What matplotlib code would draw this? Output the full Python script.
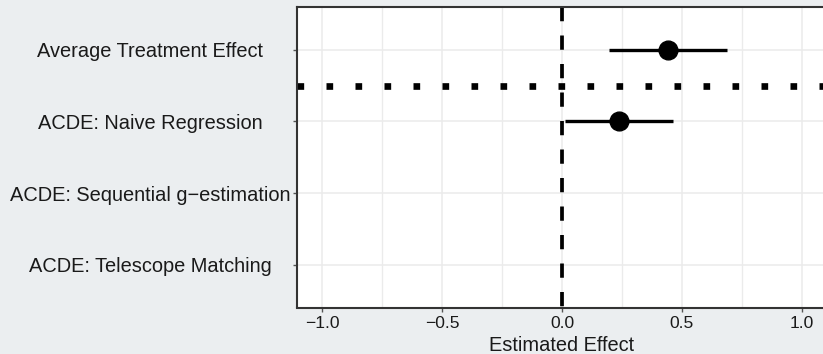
import matplotlib
matplotlib.use("Agg")
import numpy as np
import matplotlib.pyplot as plt
from matplotlib.transforms import blended_transform_factory
from matplotlib.ticker import MultipleLocator

# estimates, top row first; NaN where no estimate is shown
labels = [
    "Average Treatment Effect",
    "ACDE: Naive Regression",
    "ACDE: Sequential g\u2212estimation",
    "ACDE: Telescope Matching",
]
estimates = [0.44, 0.2375, np.nan, np.nan]
ci_low = [0.197, 0.014, np.nan, np.nan]
ci_high = [0.686, 0.464, np.nan, np.nan]
xticks = [-1.0, -0.5, 0.0, 0.5, 1.0]
xtick_labels = ["\u22121.0", "\u22120.5", "0.0", "0.5", "1.0"]

bg = "#ebeef0"
grid_col = "#ebebeb"
plt.rcParams["font.family"] = ["Liberation Sans", "DejaVu Sans"]

W, H = 823, 354
fig = plt.figure(figsize=(W / 100, H / 100), dpi=100, facecolor=bg)
left, right, top, bottom = 297, 826.4, 7, 307.5
ax = fig.add_axes([left / W, (H - bottom) / H, (right - left) / W, (bottom - top) / H])
ax.set_facecolor("white")

ypos = np.arange(len(labels), 0, -1)

ax.set_xlim(-1.104, 1.102)
ax.set_ylim(0.4, 4.6)

# grid
ax.xaxis.set_major_locator(MultipleLocator(0.5))
ax.xaxis.set_minor_locator(MultipleLocator(0.25))
ax.grid(True, which="major", color=grid_col, lw=1.1, zorder=0)
ax.grid(True, which="minor", axis="x", color=grid_col, lw=1.0, zorder=0)
ax.set_axisbelow(True)

# reference lines
ax.plot([0, 0], [4.6, 0.4], color="black", lw=2.7, ls=(0, (3.8, 3.8)),
        solid_capstyle="butt", dash_capstyle="butt", zorder=2)
ax.axhline(3.5, color="black", lw=4.8, ls=(0, (1, 3.35)),
           dash_capstyle="butt", zorder=2)

# point estimates with intervals
for y, est, lo, hi in zip(ypos, estimates, ci_low, ci_high):
    if np.isnan(est):
        continue
    ax.plot([lo, hi], [y, y], color="black", lw=2.4, solid_capstyle="butt", zorder=3)
    ax.plot(est, y, "o", color="black", ms=13.5, zorder=4)

ax.set_xticks(xticks)
ax.set_xticklabels(xtick_labels, fontsize=12.6, color="#1a1a1a")
ax.set_yticks(ypos)
ax.set_yticklabels([])
ax.tick_params(axis="both", which="major", length=3, width=1.0, color="#555555")
ax.tick_params(axis="x", pad=3)
ax.tick_params(which="minor", length=0)

# category labels centred in the left margin
trans = blended_transform_factory(fig.transFigure, ax.transData)
for y, lab in zip(ypos, labels):
    ax.text(150 / W, y, lab, transform=trans, ha="center", va="center_baseline",
            fontsize=14.4, color="#1a1a1a")

ax.set_xlabel("Estimated Effect", fontsize=14.4, color="#1a1a1a", labelpad=3.5)

for side in ["left", "top", "bottom"]:
    ax.spines[side].set_color("#333333")
    ax.spines[side].set_linewidth(1.5)
ax.spines["right"].set_visible(False)

fig.savefig("out.png", dpi=100, facecolor=bg)
